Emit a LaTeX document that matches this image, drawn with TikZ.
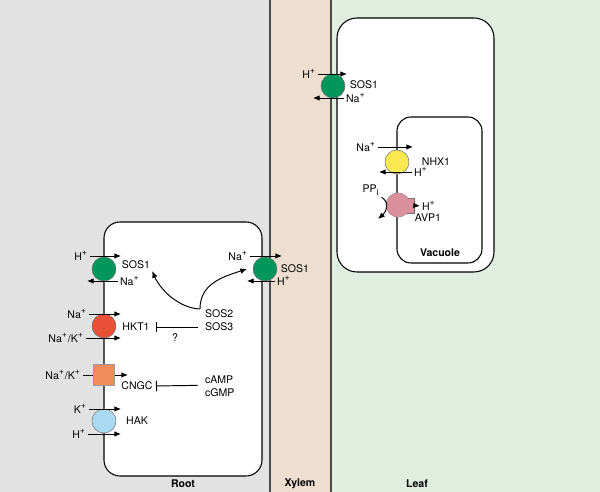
\documentclass[tikz,border=0pt]{standalone}
\usepackage{fontspec}
\setmainfont{TeX Gyre Heros}
\usetikzlibrary{arrows.meta}

\definecolor{rootbg}{RGB}{226,226,226}
\definecolor{xylembg}{RGB}{238,222,207}
\definecolor{leafbg}{RGB}{224,238,224}
\definecolor{sosgreen}{RGB}{0,150,92}
\definecolor{hktred}{RGB}{232,80,56}
\definecolor{cngcorange}{RGB}{240,140,90}
\definecolor{hakblue}{RGB}{170,218,242}
\definecolor{nhxyellow}{RGB}{250,232,80}
\definecolor{avppink}{RGB}{218,144,156}

\tikzset{
  txt/.style={font=\fontsize{6}{7}\selectfont, inner sep=1pt},
  region/.style={font=\fontsize{6}{7}\selectfont\bfseries, inner sep=1pt},
  cell/.style={draw, fill=white, line width=0.6pt},
  pump/.style={circle, minimum size=0.48cm, inner sep=0pt, draw=black!55, line width=0.3pt},
  ionarr/.style={-{Latex[length=3.8pt,width=3.2pt]}, line width=0.55pt},
  inhib/.style={-{Bar[width=6pt]}, line width=0.55pt},
}

\begin{document}
\begin{tikzpicture}[x=0.02cm,y=-0.02cm]
\useasboundingbox (0,0) rectangle (600,492);
% backgrounds
\fill[rootbg] (0,0) rectangle (270,492);
\fill[xylembg] (270,0) rectangle (331,492);
\fill[leafbg] (331,0) rectangle (600,492);
\foreach \x in {270,331}
    \draw[black!70, line width=0.7pt] (\x,0) -- (\x,492);

% cells
\draw[cell, rounded corners=0.32cm] (104,222) rectangle (262,476);
\draw[cell, rounded corners=0.4cm] (337,18) rectangle (494,272);
\draw[cell, rounded corners=0.28cm] (397,117) rectangle (482,263);

\node[region] (root) at (183,484) {Root};
\node[region] (xylem) at (300,484) {Xylem};
\node[region] (leaf) at (417,484) {Leaf};
\node[region] (vac) at (440,253) {Vacuole};

% root, left side
\node[pump, fill=sosgreen] (sosA) at (104,269) {};
\node[txt, anchor=east] (hA) at (90,256) {H\textsuperscript{+}};
\draw[ionarr] (hA.east) -- ++(31,0);
\node[txt, anchor=west] (naA) at (118,281) {Na\textsuperscript{+}};
\draw[ionarr] (naA.west) -- ++(-31,0);
\node[txt] (sosAlbl) at (136,265) {SOS1};

\node[pump, fill=hktred] (hkt) at (104,326) {};
\node[txt, anchor=east] (naB) at (89,314) {Na\textsuperscript{+}};
\draw[ionarr] (naB.east) -- ++(32,0);
\node[txt, anchor=east] (nakB) at (86,338) {Na\textsuperscript{+}/K\textsuperscript{+}};
\draw[ionarr] (nakB.east) -- ++(35,0);
\node[txt] (hktlbl) at (136,327) {HKT1};

\node[draw=black!40, fill=cngcorange, minimum size=0.42cm, inner sep=0pt, line width=0.3pt] (cngc) at (104,375) {};
\node[txt, anchor=east] (nakC) at (83,375) {Na\textsuperscript{+}/K\textsuperscript{+}};
\draw[line width=0.55pt] (nakC.east) -- (cngc.west);
\coordinate (cngcout) at (128,375);
\draw[ionarr] (cngc.east) -- (cngcout);
\node[txt] (cngclbl) at (137,386) {CNGC};

\node[pump, fill=hakblue] (hak) at (104,421) {};
\node[txt, anchor=east] (kD) at (89,409) {K\textsuperscript{+}};
\draw[ionarr] (kD.east) -- ++(32,0);
\node[txt, anchor=east] (hD) at (88,434) {H\textsuperscript{+}};
\draw[ionarr] (hD.east) -- ++(33,0);
\node[txt] (haklbl) at (137,421) {HAK};

% root, xylem side
\node[pump, fill=sosgreen] (sosB) at (265,269) {};
\node[txt, anchor=east] (naE) at (250,256) {Na\textsuperscript{+}};
\draw[ionarr] (naE.east) -- ++(32,0);
\node[txt, anchor=west] (hE) at (275,281) {H\textsuperscript{+}};
\draw[ionarr] (hE.west) -- ++(-28,0);
\node[txt] (sosBlbl) at (295,269) {SOS1};

% regulators
\node[txt, anchor=west] (sos2) at (203,314) {SOS2};
\node[txt, anchor=west] (sos3) at (203,327) {SOS3};
\node[txt, anchor=west] (camp) at (203,380) {cAMP};
\node[txt, anchor=west] (cgmp) at (203,393) {cGMP};
\node[txt] (qmark) at (175,338) {?};
\coordinate (hktbar) at (156,327);
\coordinate (cngcbar) at (156,386);
\draw[inhib, shorten <=3pt] (sos3.west) -- (hktbar);
\draw[inhib, shorten <=3pt] ([yshift=-3pt]camp.west) -- (cngcbar);
\coordinate (sig) at (200,309);
\coordinate (sosBtip) at (247,269);
\draw[ionarr] (sig) .. controls +(-22,-1) and +(8,18) .. (sosAlbl.south east);
\draw[ionarr] (sig) .. controls +(0,-25) and +(-25,8) .. (sosBtip);

% leaf
\node[pump, fill=sosgreen] (sosC) at (333,86) {};
\node[txt, anchor=east] (hF) at (318,74) {H\textsuperscript{+}};
\draw[ionarr] (hF.east) -- ++(29,0);
\node[txt, anchor=west] (naF) at (344,98) {Na\textsuperscript{+}};
\draw[ionarr] (naF.west) -- ++(-31,0);
\node[txt] (sosClbl) at (364,85) {SOS1};

\node[pump, fill=nhxyellow] (nhx) at (397,162) {};
\node[txt, anchor=east] (naG) at (378,147) {Na\textsuperscript{+}};
\draw[ionarr] (naG.east) -- ++(35,0);
\node[txt, anchor=west] (hG) at (412,172) {H\textsuperscript{+}};
\draw[ionarr] (hG.west) -- ++(-33,0);
\node[txt] (nhxlbl) at (436,162) {NHX1};

\node[pump, fill=avppink] (avp) at (398,205) {};
\node[draw=black!55, fill=avppink, minimum width=0.32cm, minimum height=0.3cm, inner sep=0pt, line width=0.3pt, anchor=west] (avpbox) at (398,205.5) {};
\node[circle, minimum size=0.48cm, inner sep=0pt, fill=avppink] (avpcore) at (avp) {};
\node[txt, anchor=west] (hH) at (420,206) {H\textsuperscript{+}};
\draw[ionarr] (avpbox.east) -- (hH.west);
\node[txt] (avplbl) at (428,218) {AVP1};
\node[txt] (ppi) at (371,190) {PP\textsubscript{i}};
\coordinate (ppiend) at (378,219);
\draw[ionarr] (ppi.south east) .. controls +(9,6) and +(8,-7) .. (ppiend);
\end{tikzpicture}
\end{document}
